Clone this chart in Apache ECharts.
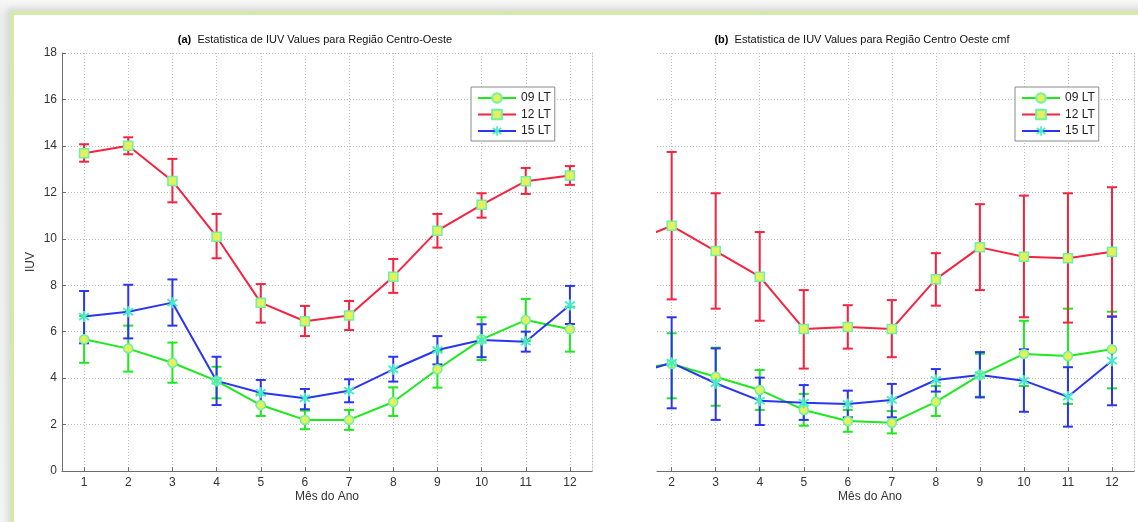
<!DOCTYPE html>
<html>
<head>
<meta charset="utf-8">
<script src="https://cdn.jsdelivr.net/npm/echarts/dist/echarts.min.js"></script>
<style>
  html, body { margin: 0; padding: 0; }
  #bg { position: absolute; left: 0; top: 0; width: 1138px; height: 522px; background: linear-gradient(180deg, #f7f7f7 0%, #ececec 3%, #f4f4f4 100%); overflow: hidden; }
  #frame { position: absolute; left: 10px; top: 11px; width: 1140px; height: 530px; background: #fff;
    border-left: 4px solid #d4eaa8; border-top: 4px solid #d4eaa8; box-shadow: -3px -3px 6px rgba(0,0,0,0.10); }
  #chart { position: absolute; left: 0; top: 0; width: 1138px; height: 522px; }
</style>
</head>
<body>
<div id="bg"><div id="frame"></div></div>
<div id="chart"></div>
<script>
const months = [1, 2, 3, 4, 5, 6, 7, 8, 9, 10, 11, 12]
const names = ['09 LT', '12 LT', '15 LT']

// (a) Centro-Oeste
const a09 = [5.67, 5.27, 4.66, 3.88, 2.84, 2.20, 2.20, 2.97, 4.38, 5.67, 6.50, 6.10]
const a09Lo = [4.66, 4.28, 3.80, 3.13, 2.37, 1.80, 1.77, 2.37, 3.59, 4.78, 5.60, 5.14]
const a09Hi = [6.68, 6.26, 5.53, 4.49, 3.30, 2.60, 2.63, 3.60, 5.17, 6.62, 7.41, 7.07]
const a12 = [13.68, 14.01, 12.49, 10.09, 7.25, 6.45, 6.70, 8.37, 10.35, 11.46, 12.48, 12.72]
const a12Lo = [13.32, 13.64, 11.57, 9.16, 6.39, 5.81, 6.07, 7.67, 9.62, 10.91, 11.93, 12.32]
const a12Hi = [14.07, 14.37, 13.44, 11.07, 8.05, 7.11, 7.32, 9.13, 11.07, 11.96, 13.05, 13.13]
const a15 = [6.65, 6.86, 7.25, 3.88, 3.37, 3.13, 3.46, 4.38, 5.21, 5.64, 5.57, 7.15]
const a15Lo = [5.50, 5.71, 6.26, 2.84, 2.84, 2.66, 2.96, 3.85, 4.59, 4.90, 5.14, 6.33]
const a15Hi = [7.75, 8.02, 8.25, 4.92, 3.92, 3.53, 3.95, 4.92, 5.81, 6.32, 6.00, 7.97]

// (b) Centro Oeste cmf
const b09 = [4.35, 4.61, 4.06, 3.49, 2.63, 2.15, 2.08, 2.98, 4.13, 5.04, 4.95, 5.24]
const b09Lo = [3.00, 3.13, 2.81, 2.63, 1.95, 1.69, 1.62, 2.37, 3.20, 3.66, 2.89, 3.56]
const b09Hi = [5.70, 5.93, 5.31, 4.35, 3.32, 2.63, 2.58, 3.66, 5.05, 6.47, 6.99, 6.86]
const b12 = [9.80, 10.56, 9.47, 8.37, 6.12, 6.20, 6.12, 8.26, 9.63, 9.23, 9.16, 9.44]
const b12Lo = [7.00, 7.39, 6.99, 6.47, 4.41, 5.27, 4.90, 7.12, 7.79, 6.62, 6.39, 6.65]
const b12Hi = [12.60, 13.74, 11.96, 10.29, 7.79, 7.14, 7.36, 9.38, 11.49, 11.86, 11.96, 12.22]
const b15 = [4.10, 4.66, 3.78, 3.03, 2.94, 2.89, 3.06, 3.92, 4.13, 3.89, 3.20, 4.75]
const b15Lo = [2.50, 2.70, 2.20, 1.98, 2.20, 2.31, 2.31, 3.42, 3.17, 2.55, 1.91, 2.83]
const b15Hi = [5.70, 6.62, 5.28, 4.02, 3.70, 3.46, 3.75, 4.39, 5.12, 5.24, 4.47, 6.65]

const colors = ['#1ee81e', '#f5233f', '#2b35f0']
const markFill = '#e4f25a'
const markEdge = '#6ef0a8'
// asterisk-like marker for 15 LT
const starPath = 'path://M-1.6,-10 L1.6,-10 L1.6,-3.2 L7.5,-7.6 L9.4,-5 L3.2,0 L9.4,5 L7.5,7.6 L1.6,3.2 L1.6,10 L-1.6,10 L-1.6,3.2 L-7.5,7.6 L-9.4,5 L-3.2,0 L-9.4,-5 L-7.5,-7.6 L-1.6,-3.2 Z'
const symbols = ['circle', 'rect', starPath]
const font = '"Liberation Sans", Arial, sans-serif'

function pairs(vals) {
  return months.map((m, i) => [m, vals[i]])
}
function bars(lo, hi) {
  return months.map((m, i) => [m, lo[i], hi[i]])
}

function errRender(params, api) {
  const x = api.value(0)
  const top = api.coord([x, api.value(2)])
  const bot = api.coord([x, api.value(1)])
  const w = 5
  const style = { stroke: api.visual('color'), lineWidth: 2 }
  return {
    type: 'group',
    children: [
      { type: 'line', shape: { x1: top[0], y1: top[1], x2: bot[0], y2: bot[1] }, style: style },
      { type: 'line', shape: { x1: top[0] - w, y1: top[1], x2: top[0] + w, y2: top[1] }, style: style },
      { type: 'line', shape: { x1: bot[0] - w, y1: bot[1], x2: bot[0] + w, y2: bot[1] }, style: style }
    ]
  }
}

const axisGray = '#6d6d6d'
const gridLine = { show: true, lineStyle: { type: [1, 2], color: '#bdbdbd', width: 1 } }

function xAx(idx, min, ticks) {
  return {
    type: 'value', gridIndex: idx, min: min, max: 12.5,
    axisLine: { show: true, onZero: false, lineStyle: { color: axisGray } },
    axisTick: { show: true, inside: true, length: 4, customValues: ticks, lineStyle: { color: axisGray } },
    axisLabel: { customValues: ticks, color: '#333', fontSize: 12, fontFamily: font, margin: 6 },
    splitLine: gridLine
  }
}
function yAx(idx, showAxis) {
  return {
    type: 'value', gridIndex: idx, min: 0, max: 18, interval: 2,
    name: showAxis ? 'IUV' : '', nameLocation: 'middle', nameGap: 25,
    nameTextStyle: { color: '#333', fontSize: 12, fontFamily: font },
    axisLine: { show: showAxis, lineStyle: { color: axisGray } },
    axisTick: { show: showAxis, inside: true, length: 4, lineStyle: { color: axisGray } },
    axisLabel: { show: showAxis, color: '#333', fontSize: 12, fontFamily: font, margin: 5 },
    splitLine: gridLine
  }
}
function edgeAx(idx) {
  return {
    type: 'value', gridIndex: idx, min: 0, max: 18, position: 'right',
    axisLine: { show: true, lineStyle: { type: [1, 2], color: '#bdbdbd' } },
    axisTick: { show: false }, axisLabel: { show: false }, splitLine: { show: false }
  }
}

function panelSeries(idx, vals, lows, highs) {
  const out = []
  for (let k = 0; k < 3; k++) {
    out.push({
      type: 'custom', name: names[k] + ' err', xAxisIndex: idx, yAxisIndex: idx,
      renderItem: errRender, clip: true, silent: true, z: 2,
      itemStyle: { color: colors[k] },
      data: bars(lows[k], highs[k])
    })
    out.push({
      type: 'line', name: names[k], xAxisIndex: idx, yAxisIndex: idx,
      clip: true, z: 3,
      symbol: symbols[k], symbolSize: k === 2 ? 11 : 9, showAllSymbol: true,
      lineStyle: { color: colors[k], width: 2 },
      itemStyle: k === 2
        ? { color: '#44eec4', borderWidth: 0 }
        : { color: markFill, borderColor: markEdge, borderWidth: 1.5 },
      data: pairs(vals[k])
    })
  }
  return out
}

function legendAt(left) {
  return {
    data: names, orient: 'vertical', left: left, top: 87,
    itemWidth: 38, itemHeight: 12, itemGap: 4.5,
    padding: [5, 4, 4, 6],
    backgroundColor: '#fff', borderColor: '#8a8a8a', borderWidth: 1, borderRadius: 0,
    textStyle: { color: '#222', fontSize: 12, fontFamily: font },
    selectedMode: false
  }
}

function titleText(x, tag, text) {
  return {
    type: 'text', x: x, y: 40,
    style: {
      text: '{b|' + tag + '}  ' + text,
      font: '11px ' + font, fill: '#111',
      align: 'center', verticalAlign: 'middle',
      rich: { b: { fontWeight: 'bold', fontSize: 11, fontFamily: font, fill: '#000' } }
    }
  }
}
function axisName(x) {
  return {
    type: 'text', x: x, y: 497,
    style: { text: 'Mês do Ano', font: '12px ' + font, fill: '#333', align: 'center', verticalAlign: 'middle' }
  }
}

const chart = echarts.init(document.getElementById('chart'), null, { renderer: 'canvas' })
chart.setOption({
  backgroundColor: 'transparent',
  animation: false,
  grid: [
    { left: 62, top: 53, width: 530, height: 418 },
    { left: 657, top: 53, width: 477, height: 418 }
  ],
  xAxis: [xAx(0, 0.5, months), xAx(1, 1.667, months.slice(1))],
  yAxis: [yAx(0, true), yAx(1, false), edgeAx(0), edgeAx(1)],
  legend: [legendAt(471), legendAt(1015)],
  graphic: [
    titleText(315, '(a)', 'Estatistica de IUV Values para Região Centro-Oeste'),
    titleText(862, '(b)', 'Estatistica de IUV Values para Região Centro Oeste cmf'),
    axisName(327),
    axisName(870)
  ],
  series: panelSeries(0, [a09, a12, a15], [a09Lo, a12Lo, a15Lo], [a09Hi, a12Hi, a15Hi])
    .concat(panelSeries(1, [b09, b12, b15], [b09Lo, b12Lo, b15Lo], [b09Hi, b12Hi, b15Hi]))
})
</script>
</body>
</html>
